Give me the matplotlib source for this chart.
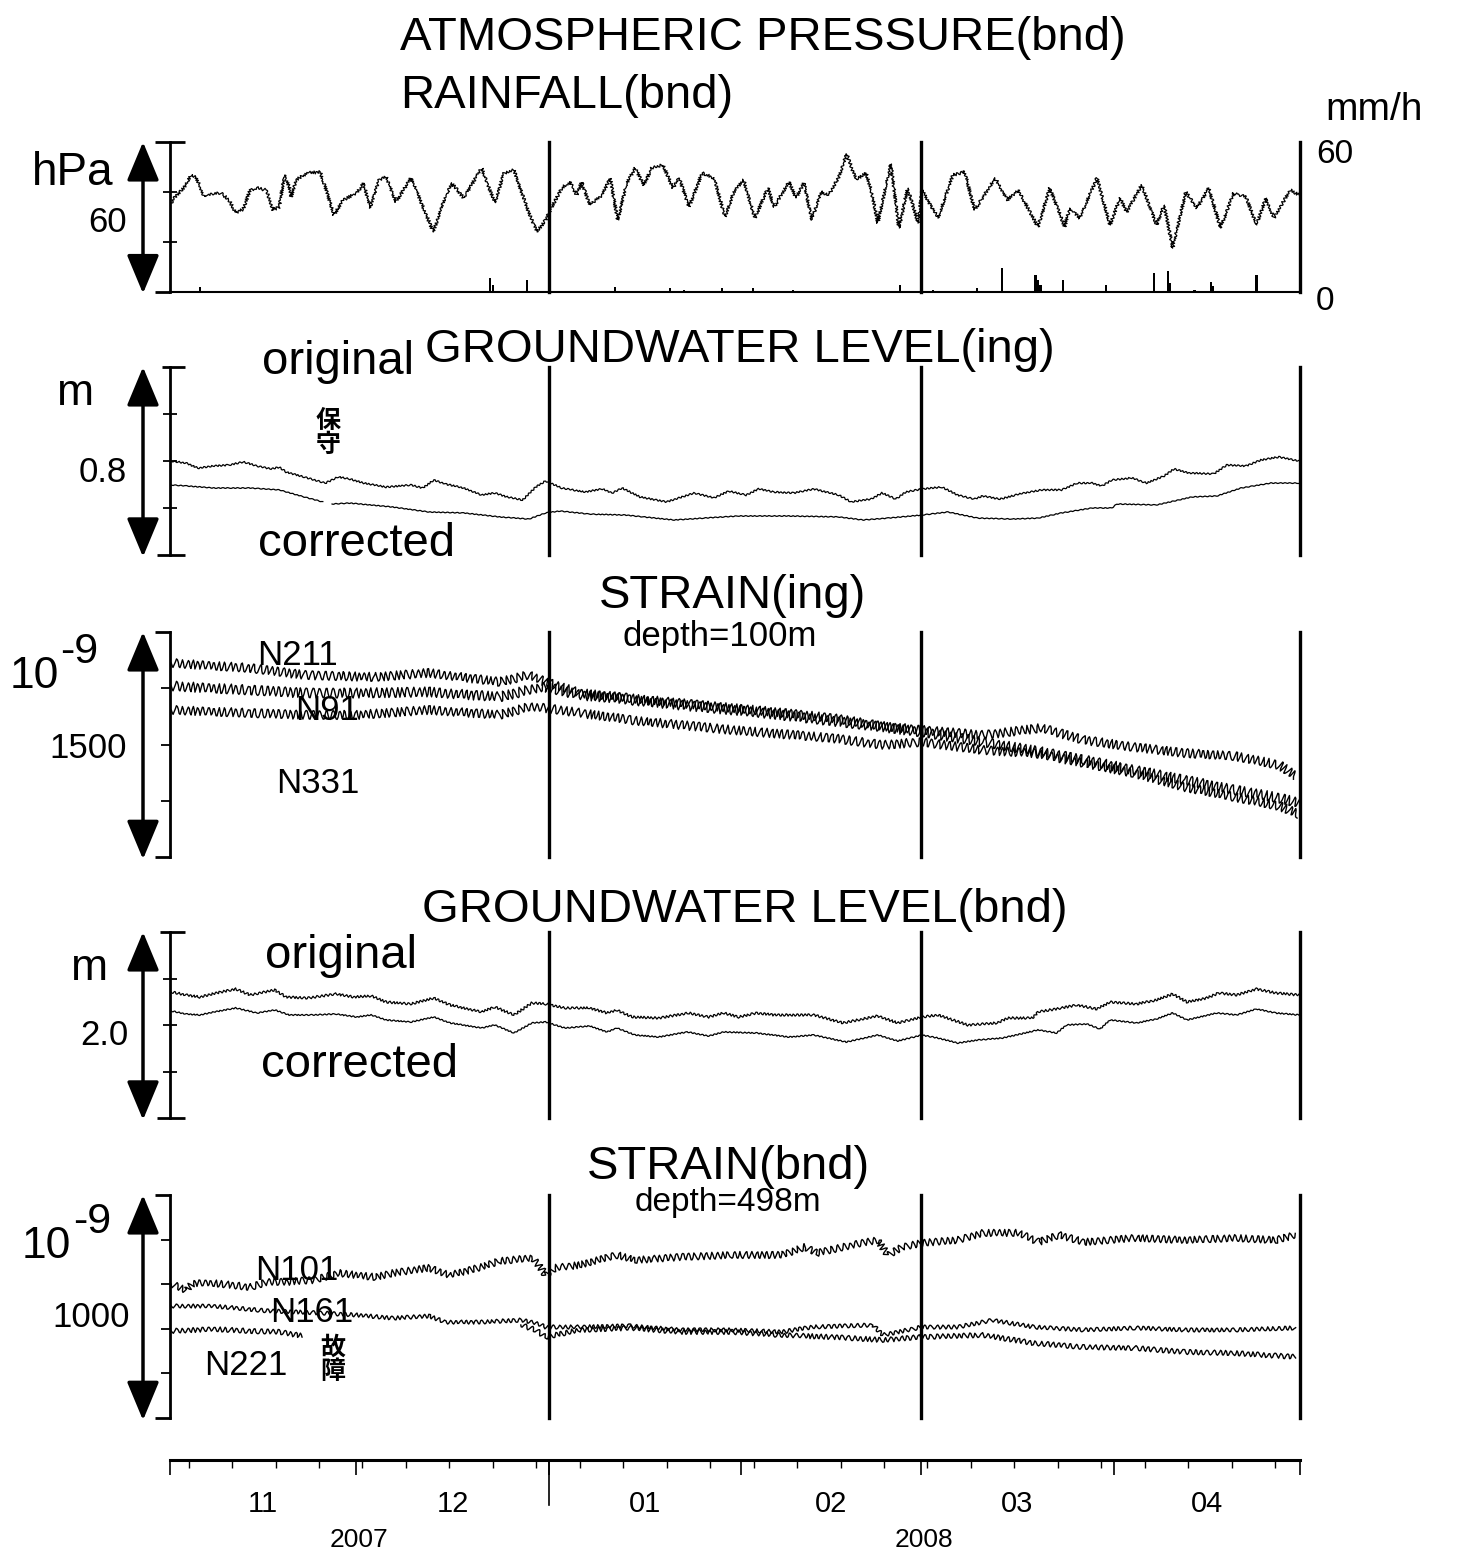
import numpy as np
import matplotlib
matplotlib.use('Agg')
import matplotlib.pyplot as plt

# time axis: days since 2007-11-01 00:00
month_start = [0, 30, 61, 92, 121, 152, 182]
month_lab = ['11', '12', '01', '02', '03', '04']
year_lab = ['2007', '2008']
year_pos = [30.5, 121.5]

# atmospheric pressure (hPa)
pres_day = [0.2, 0.8, 2.3, 3.4, 4.2, 5.5, 7.1, 8.2, 9.5, 10.6,
            11.8, 12.9, 14.0, 15.5, 16.6, 17.6, 18.4, 19.2, 19.5, 20.3,
            22.1, 24.2, 25.3, 26.4, 27.9, 30.1, 31.2, 32.2, 33.7, 34.8,
            36.4, 38.8, 40.3, 42.4, 44.0, 45.4, 47.3, 50.2, 52.3, 53.8,
            55.4, 57.8, 59.1, 60.5, 61.5, 63.1, 64.4, 65.5, 66.3, 67.6,
            69.6, 70.9, 72.1, 73.6, 74.9, 76.3, 77.6, 79.4, 81.0, 82.0,
            83.6, 85.7, 87.6, 89.4, 90.8, 92.4, 94.2, 96.3, 97.3, 99.7,
            100.8, 102.1, 103.4, 104.8, 106.1, 107.7, 109.0, 110.5, 112.1, 113.0,
            114.0, 116.1, 117.4, 118.8, 120.5, 121.1, 123.7, 126.1, 128.0, 129.6,
            132.9, 134.9, 136.6, 139.8, 141.7, 144.1, 144.9, 146.5, 149.3, 151.4,
            153.0, 154.1, 156.5, 158.9, 160.1, 161.5, 163.6, 165.4, 167.3, 169.2,
            171.3, 173.3, 175.0, 176.5, 177.8, 180.4, 181.8]
pres_hpa = [1005.6, 1008, 1012, 1016.8, 1016, 1008, 1009.6, 1009.6, 1006.8, 1001.6,
            1003.2, 1010.8, 1011.6, 1010.8, 1002.8, 1004, 1016.8, 1012, 1008, 1014.8,
            1017.6, 1018, 1009.6, 1000.8, 1006.8, 1009.6, 1013.6, 1003.6, 1014.8, 1016,
            1006, 1015.6, 1006.8, 994, 1005.6, 1013.6, 1007.6, 1019.6, 1005.6, 1017.6,
            1018.8, 1001.6, 994, 998.8, 1004, 1011.6, 1014, 1008.8, 1014, 1004.8,
            1008.8, 1015.6, 998.8, 1013.6, 1019.6, 1012.8, 1019.6, 1020.8, 1011.6, 1015.6,
            1004, 1017.6, 1015.6, 1000, 1010, 1014.8, 999.6, 1011.6, 1004, 1014,
            1007.6, 1013.6, 998.8, 1010, 1008.8, 1016, 1025.2, 1014.8, 1017.6, 1010,
            997.6, 1021.2, 995.6, 1011.6, 997.6, 1010.8, 999.6, 1016.8, 1018, 1002.8,
            1015.6, 1006.8, 1010.8, 996, 1011.6, 996, 1003.6, 999.6, 1015.6, 996.8,
            1007.6, 1002, 1012.8, 996.8, 1004.8, 987.6, 1010, 1003.6, 1011.6, 995.6,
            1009.6, 1008, 996.8, 1007.6, 999.6, 1010.8, 1008.8]

# rainfall (mm/h)
rain_day = [4.8, 51.5, 52.0, 57.5, 71.7, 80.5, 82.8, 88.9, 93.9, 100.3, 117.6, 122.9, 130.0,
            134.0, 139.4, 139.8, 140.2, 143.8, 150.7, 158.5, 160.7, 161.0, 165.0, 167.6, 168.0, 175.0]
rain_mm = [2, 5.5, 3, 5, 2, 1.5, 1, 1.5, 1.5, 1, 3, 1, 1.5,
           9.5, 7, 5, 3, 5, 3, 7.5, 8.5, 3.5, 1, 4, 2.5, 7]

# groundwater level (ing), m
gwi_orig_day = [0.2, 2.6, 4.5, 7.1, 9.5, 11.8, 14.0, 16.3, 17.6, 18.7,
                21.6, 25.0, 27.1, 29.0, 31.2, 34.8, 38.8, 40.7, 42.5, 44.4,
                47.3, 50.2, 52.3, 54.3, 56.8, 58.9, 60.5, 63.1, 66.8, 69.6,
                71.2, 72.8, 75.7, 80.0, 82.0, 84.4, 87.6, 90.0, 92.8, 94.8,
                97.3, 100.5, 103.7, 107.7, 109.7, 112.9, 114.7, 116.9, 118.5, 121.1,
                124.3, 126.9, 129.5, 130.9, 133.7, 136.9, 140.4, 143.6, 146.1, 148.5,
                150.1, 151.7, 154.9, 157.3, 160.1, 161.7, 164.1, 168.1, 170.2, 173.3,
                175.7, 178.6, 181.8]
gwi_orig = [.400, .391, .370, .379, .383, .396, .379, .366, .374, .353,
            .332, .306, .332, .323, .306, .289, .298, .285, .319, .302,
            .285, .255, .264, .247, .234, .289, .315, .285, .268, .281,
            .264, .285, .247, .226, .243, .264, .243, .272, .255, .281,
            .268, .264, .281, .255, .226, .238, .264, .238, .268, .281,
            .289, .255, .238, .251, .238, .260, .277, .277, .306, .306,
            .294, .319, .328, .306, .336, .366, .349, .345, .383, .379,
            .404, .417, .400]
gwi_corr_day = [0.2, 2.6, 7.1, 12.9, 17.6, 21.6, 24.6, 25.3, 26.1, 29.0,
                35.9, 41.7, 47.3, 53.1, 57.8, 60.5, 62.8, 67.6, 73.3, 76.3,
                81.2, 86.0, 91.6, 99.7, 107.7, 111.6, 115.6, 121.1, 125.3, 130.1,
                135.7, 139.8, 143.6, 148.5, 151.7, 152.5, 158.9, 164.6, 168.6, 172.5,
                177.3, 181.8]
gwi_corr = [.298, .294, .285, .285, .277, .247, .226, np.nan, .217, .221,
            .204, .183, .179, .162, .153, .179, .187, .174, .170, .162,
            .149, .157, .166, .166, .162, .149, .157, .170, .183, .157,
            .153, .157, .179, .200, .200, .217, .213, .247, .251, .285,
            .306, .306]

# strain (ing), 1e-9
n211_day = [0.2, 12.9, 21.6, 33.0, 41.7, 53.1, 57.8, 60.5, 66.0, 74.1, 83.7, 94.2,
            106.6, 114.8, 121.1, 130.9, 140.4, 147.2, 155.2, 163.4, 171.5, 178.7, 181.3]
n211 = [1293, 1260, 1213, 1200, 1227, 1167, 1213, 1167, 1093, 1060, 1020, 980,
        927, 873, 847, 813, 860, 780, 733, 693, 673, 613, 540]
n91_day = [0.2, 12.9, 21.6, 30.1, 41.7, 53.1, 57.8, 60.5, 66.0, 74.1, 83.7, 94.2,
           106.6, 114.8, 121.1, 130.9, 140.4, 147.2, 155.2, 163.4, 171.5, 178.7, 181.8]
n91 = [1140, 1113, 1093, 1093, 1100, 1067, 1113, 1133, 1080, 1047, 1007, 967,
       907, 867, 833, 767, 700, 647, 580, 513, 447, 393, 360]
n331_day = [0.2, 12.9, 21.6, 30.1, 41.7, 53.1, 57.8, 60.5, 74.1, 90.5, 106.6,
            114.8, 121.1, 130.9, 139.1, 147.2, 155.2, 163.4, 171.5, 178.7, 181.8]
n331 = [980, 960, 947, 947, 980, 947, 1000, 993, 913, 847, 793,
        747, 767, 713, 693, 627, 560, 467, 400, 340, 287]

# groundwater level (bnd), m
gwb_orig_day = [0.2, 2.6, 4.8, 8.2, 10.6, 12.9, 16.9, 18.7, 22.1, 26.7,
                29.6, 32.4, 34.8, 38.8, 42.5, 45.1, 50.2, 52.3, 55.4, 58.3,
                60.5, 63.6, 67.6, 70.4, 72.0, 74.4, 78.7, 83.6, 86.8, 89.2,
                91.6, 94.4, 97.3, 103.7, 108.4, 114.0, 117.2, 121.1, 123.7, 128.5,
                133.3, 134.9, 139.0, 139.8, 143.6, 146.1, 149.3, 151.4, 155.7, 158.9,
                161.5, 163.8, 167.0, 168.9, 171.8, 175.0, 178.1, 181.8]
gwb_orig = [1.355, 1.323, 1.301, 1.355, 1.387, 1.323, 1.376, 1.301, 1.290, 1.333,
            1.301, 1.312, 1.247, 1.226, 1.290, 1.215, 1.140, 1.194, 1.108, 1.237,
            1.226, 1.183, 1.183, 1.129, 1.161, 1.086, 1.075, 1.129, 1.086, 1.129,
            1.086, 1.129, 1.108, 1.108, 1.022, 1.097, 1.022, 1.086, 1.108, 1.000,
            1.022, 1.075, 1.075, 1.140, 1.183, 1.215, 1.172, 1.247, 1.226, 1.269,
            1.333, 1.247, 1.290, 1.344, 1.323, 1.387, 1.344, 1.323]
gwb_corr_day = [0.2, 2.6, 4.8, 7.1, 10.6, 14.0, 16.9, 19.2, 22.7, 26.7,
                30.1, 32.4, 34.8, 38.8, 42.5, 45.1, 50.2, 52.3, 55.4, 58.3,
                60.5, 63.6, 67.6, 70.4, 72.0, 74.9, 78.7, 83.3, 86.8, 89.2,
                94.4, 99.7, 103.7, 108.9, 114.0, 117.2, 121.1, 123.7, 126.9, 130.1,
                134.1, 139.8, 142.8, 144.4, 147.7, 149.8, 151.4, 155.7, 158.9, 161.5,
                163.8, 168.6, 171.8, 175.0, 178.1, 181.8]
gwb_corr = [1.151, 1.118, 1.108, 1.140, 1.183, 1.129, 1.161, 1.108, 1.108, 1.118,
            1.086, 1.108, 1.054, 1.032, 1.086, 1.022, 0.968, 1.000, 0.914, 1.022,
            1.032, 0.968, 0.989, 0.925, 0.968, 0.892, 0.871, 0.925, 0.882, 0.925,
            0.914, 0.871, 0.892, 0.817, 0.892, 0.828, 0.892, 0.860, 0.806, 0.839,
            0.860, 0.946, 0.914, 1.000, 1.011, 0.957, 1.054, 1.022, 1.065, 1.129,
            1.054, 1.129, 1.108, 1.172, 1.129, 1.108]

# strain (bnd), 1e-9
n101_day = [0.2, 2.6, 3.7, 7.1, 12.9, 15.8, 18.7, 23.2, 27.2, 33.0,
            35.9, 41.7, 45.1, 50.2, 53.1, 58.3, 59.4, 60.5, 62.0, 66.0,
            72.1, 75.0, 82.3, 90.5, 98.6, 102.3, 104.2, 111.4, 114.0, 115.6,
            118.0, 121.1, 126.9, 130.9, 136.7, 139.9, 143.2, 147.2, 155.4, 163.4,
            171.5, 178.1, 181.3]
n101 = [601, 574, 605, 605, 587, 610, 610, 619, 650, 632,
        650, 673, 641, 677, 704, 717, 686, 641, 673, 686,
        731, 708, 722, 731, 731, 767, 740, 785, 798, 731,
        767, 785, 798, 830, 830, 789, 821, 789, 807, 798,
        807, 798, 821]
n161_day = [0.2, 7.1, 15.8, 24.3, 30.1, 35.9, 41.7, 44.4, 50.2, 56.5,
            58.9, 60.5, 66.0, 74.2, 82.3, 90.5, 98.6, 103.4, 113.2, 114.8,
            121.1, 126.9, 132.5, 139.1, 147.2, 155.4, 163.4, 171.5, 181.3]
n161 = [502, 502, 480, 471, 462, 448, 457, 430, 430, 439,
        426, 408, 408, 413, 395, 395, 386, 408, 417, 372,
        408, 408, 439, 408, 395, 404, 395, 395, 404]
n221_day = [0.2, 7.1, 12.9, 17.6, 21.3, 22.0, 56.5, 58.9, 60.5, 66.0, 74.2, 82.3,
            90.5, 98.6, 106.6, 114.8, 121.1, 130.9, 139.1, 147.2, 155.4, 163.4, 171.5, 181.3]
n221 = [390, 399, 390, 386, 368, np.nan, 417, 395, 363, 395, 404, 386,
        386, 372, 363, 350, 363, 372, 336, 318, 314, 296, 291, 274]

plt.rcParams['font.family'] = ['Liberation Sans', 'Noto Sans CJK JP', 'DejaVu Sans']

W, H = 1457, 1554
X0, X1 = 170, 1300
fig = plt.figure(figsize=(W / 100, H / 100), dpi=100)


def fx(x):
    return x / W


def fy(y):
    return 1 - y / H


def txt(x, y, s, size, ha='left', va='baseline', **kw):
    fig.text(fx(x), fy(y), s, fontsize=size, ha=ha, va=va, **kw)


def panel(top, bot, ylim, ticks, tdir, cap_top, cap_bot):
    ax = fig.add_axes([fx(X0), fy(bot), (X1 - X0) / W, (bot - top) / H])
    ax.set_xlim(0, 182)
    ax.set_ylim(*ylim)
    for s in ['top', 'right', 'bottom']:
        ax.spines[s].set_visible(False)
    ax.spines['left'].set_linewidth(2)
    ax.set_xticks([])
    ax.set_yticks(ticks)
    ax.tick_params(axis='y', direction=tdir, length=10 if tdir == 'inout' else 6.5,
                   width=1.3, labelleft=False)
    for d in (61, 121, 182):
        ax.axvline(d, color='k', lw=2.4, clip_on=False)
    for yy, (a, b) in ((1, cap_top), (0, cap_bot)):
        ax.plot([(a - X0) / (X1 - X0), (b - X0) / (X1 - X0)], [yy, yy],
                transform=ax.transAxes, color='k', lw=2, clip_on=False,
                solid_capstyle='butt')
    ax_x = (143 - X0) / (X1 - X0)
    ax.annotate('', xy=(ax_x, 1.0), xytext=(ax_x, -0.01), xycoords='axes fraction',
                arrowprops=dict(arrowstyle='<|-|>,head_length=1.2,head_width=0.5',
                                color='k', lw=2.5, shrinkA=0, shrinkB=0,
                                mutation_scale=20))
    return ax


def line(ax, x, y, sk, lw=0.9):
    ln, = ax.plot(x, y, color='k', lw=lw)
    ln.set_sketch_params(*sk)
    return ln


# --- pressure / rainfall
ax1 = panel(142, 292, (970, 1030), [990, 1010], 'inout', (155, 185), (155, 170))
ax1.spines['bottom'].set_visible(True)
ax1.spines['bottom'].set_linewidth(1.5)
line(ax1, pres_day, pres_hpa, (1.5, 3, 2.0))
rax = ax1.twinx()
rax.set_ylim(0, 60)
rax.set_xlim(0, 182)
for s in rax.spines.values():
    s.set_visible(False)
rax.set_yticks([])
rax.bar(rain_day, rain_mm, width=0.35, color='k')

txt(400, 50, 'ATMOSPHERIC PRESSURE(bnd)', 34)
txt(400, 108, 'RAINFALL(bnd)', 34)
txt(1325, 120, 'mm/h', 28)
txt(1316, 163, '60', 24)
txt(1316, 310, '0', 24)
txt(32, 185, 'hPa', 33)
txt(127, 232, '60', 25, ha='right')

# --- groundwater ing
ax2 = panel(367, 555, (0, 0.8), [0.2, 0.4, 0.6], 'inout', (162, 185), (157, 185))
line(ax2, gwi_orig_day, gwi_orig, (0.8, 4, 1.5))
line(ax2, gwi_corr_day, gwi_corr, (0.4, 5, 1.5))
txt(740, 362, 'GROUNDWATER LEVEL(ing)', 34, ha='center')
txt(262, 374, 'original', 34)
txt(258, 556, 'corrected', 34)
txt(75, 405, 'm', 32, ha='center')
txt(127, 482, '0.8', 25, ha='right')
txt(328, 433, '保\n守', 18, ha='center', va='center', linespacing=1.0, weight='bold')

# --- strain ing
ax3 = panel(632, 857, (0, 1500), [375, 750, 1125], 'out', (155, 171), (155, 171))
line(ax3, n211_day, n211, (4.5, 6, 1.8), lw=1.0)
line(ax3, n91_day, n91, (5, 6, 1.8), lw=1.0)
line(ax3, n331_day, n331, (4.5, 6, 1.8), lw=1.0)
txt(733, 608, 'STRAIN(ing)', 34, ha='center')
txt(720, 646, 'depth=100m', 25, ha='center')
txt(10, 688, '10', 32)
txt(60, 663, '-9', 31)
txt(127, 758, '1500', 25, ha='right')
txt(297, 665, 'N211', 25, ha='center')
txt(327, 720, 'N91', 25, ha='center')
txt(318, 793, 'N331', 25, ha='center')

# --- groundwater bnd
ax4 = panel(932, 1118, (0, 2.0), [0.5, 1.0, 1.5], 'inout', (160, 185), (157, 185))
line(ax4, gwb_orig_day, gwb_orig, (1.2, 4, 1.5))
line(ax4, gwb_corr_day, gwb_corr, (0.6, 4, 1.5))
txt(745, 922, 'GROUNDWATER LEVEL(bnd)', 34, ha='center')
txt(265, 968, 'original', 34)
txt(261, 1077, 'corrected', 34)
txt(90, 980, 'm', 32, ha='center')
txt(128, 1045, '2.0', 25, ha='right')

# --- strain bnd
ax5 = panel(1195, 1418, (0, 1000), [200, 400, 600, 800], 'out', (155, 171), (155, 171))
line(ax5, n101_day, n101, (3.5, 6, 1.8), lw=1.0)
line(ax5, n161_day, n161, (2, 6, 1.8), lw=1.0)
line(ax5, n221_day, n221, (2.5, 6, 1.8), lw=1.0)
txt(728, 1179, 'STRAIN(bnd)', 34, ha='center')
txt(728, 1211, 'depth=498m', 24, ha='center')
txt(22, 1258, '10', 32)
txt(73, 1233, '-9', 31)
txt(130, 1327, '1000', 25, ha='right')
txt(297, 1280, 'N101', 25, ha='center')
txt(312, 1322, 'N161', 25, ha='center')
txt(246, 1375, 'N221', 25, ha='center')
txt(333, 1360, '故\n障', 18, ha='center', va='center', linespacing=1.0, weight='bold')

# --- time axis
axt = fig.add_axes([fx(X0), fy(1554), (X1 - X0) / W, (1554 - 1460) / H])
axt.set_xlim(0, 182)
axt.set_ylim(0, 1)
for s in ['left', 'right', 'bottom']:
    axt.spines[s].set_visible(False)
axt.spines['top'].set_linewidth(2.2)
axt.set_yticks([])
axt.xaxis.set_ticks_position('top')
axt.set_xticks(month_start)
axt.set_xticks(np.arange(3, 182, 7), minor=True)
axt.tick_params(axis='x', which='major', direction='in', length=11, width=1.2,
                labeltop=False, labelbottom=False)
axt.tick_params(axis='x', which='minor', direction='in', length=6, width=1.0)
axt.plot([61, 61], [1, 1 - 45 / 94], color='k', lw=1.2)
for i, lab in enumerate(month_lab):
    mid = (month_start[i] + month_start[i + 1]) / 2
    axt.text(mid, (1554 - 1512) / 94, lab, ha='center', va='baseline', fontsize=21)
for p, lab in zip(year_pos, year_lab):
    axt.text(p, (1554 - 1547) / 94, lab, ha='center', va='baseline', fontsize=19)

fig.savefig('out.png', dpi=100)
